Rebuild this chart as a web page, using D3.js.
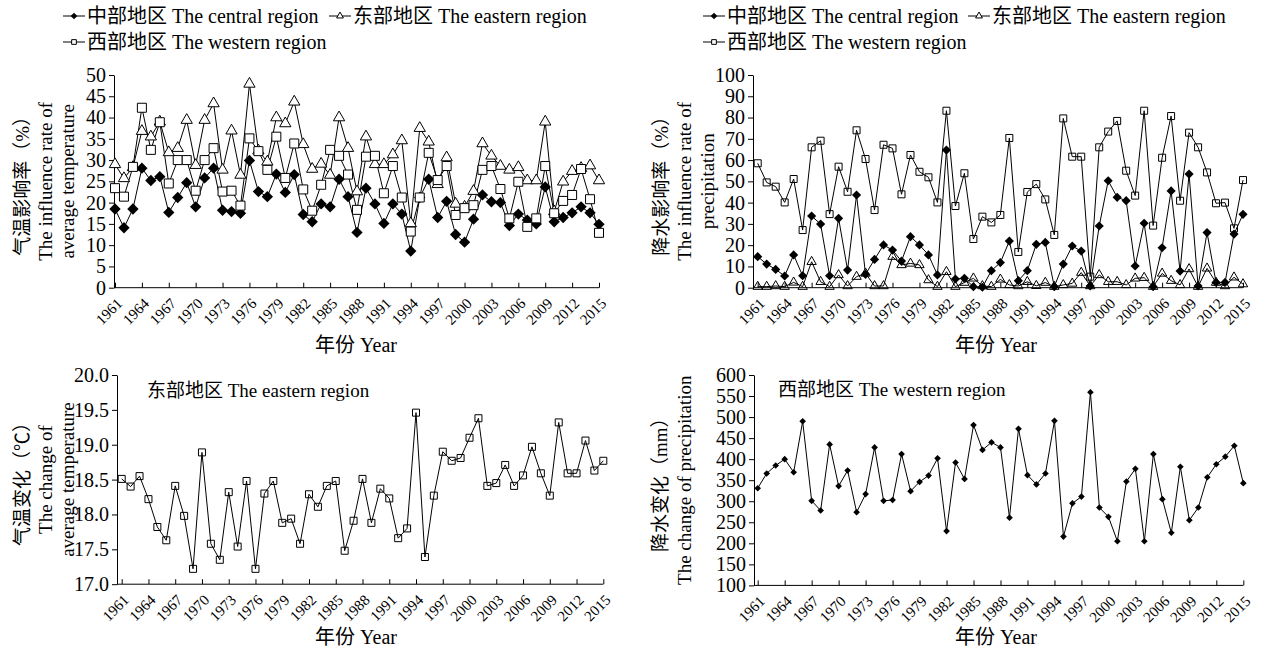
<!DOCTYPE html>
<meta charset="utf-8">
<style>
    body { margin:0; background:#fff; }
    text { font-family:"Liberation Serif","Noto Sans CJK SC",serif; fill:#000; }
    .axis path, .axis line { stroke:#000; stroke-width:1; fill:none; }
</style>
<body>
<script src="https://cdn.jsdelivr.net/npm/d3@7"></script>
<script>
var years = d3.range(1961, 2016);
var yearTicks = d3.range(1961, 2016, 3);
var regionNames = ["中部地区 The central region", "东部地区 The eastern region", "西部地区 The western region"];

// influence rate of average temperature (%)
var tempRateCentral = [18.5,14.1,18.5,28.1,25.2,26.1,17.7,21.2,24.7,19.0, 25.8,28.1,18.2,17.9,17.5,29.9,22.6,21.4,26.7,22.4,
    26.6,17.2,15.5,19.7,19.0,25.5,21.4,13.0,23.4,19.7, 15.1,19.7,17.3,8.6,21.2,25.5,16.5,20.3,12.5,10.7,
    16.1,21.8,20.2,20.0,14.6,17.3,15.9,15.0,23.7,15.5, 16.5,17.6,19.0,17.6,14.9];
var tempRateEastern = [29.0,25.7,28.3,36.8,35.5,39.0,31.8,32.8,39.4,28.8, 39.4,43.3,27.7,36.9,26.5,47.9,32.2,29.6,40.0,38.6,
    43.7,33.7,27.9,29.1,26.5,40.0,32.8,22.6,35.5,29.0, 29.0,31.3,34.6,15.1,37.5,34.3,24.3,30.6,19.7,19.0,
    22.7,33.9,31.0,28.6,27.7,28.3,25.2,25.2,39.0,17.9, 24.9,27.4,28.1,28.7,25.2];
var tempRateWestern = [23.4,21.4,28.4,42.3,32.4,38.9,24.5,30.0,30.0,22.8, 30.0,32.8,22.6,22.8,19.3,35.1,32.1,27.7,35.5,25.8,
    33.9,23.1,18.1,24.2,32.4,31.0,26.6,18.3,30.8,31.0, 22.2,28.6,21.2,13.2,21.2,31.7,25.3,28.6,17.1,18.7,
    19.4,27.7,28.6,23.2,16.3,24.9,14.3,16.3,28.6,17.5, 20.4,21.8,27.9,20.8,12.9];

// influence rate of precipitation (%)
var precRateCentral = [14.6,11.1,8.6,5.5,15.4,5.6,33.7,29.9,5.6,32.6, 8.3,43.6,6.3,13.3,20.1,17.7,12.5,24.0,20.1,15.4,
    6.0,64.7,4.1,4.4,0.5,0.2,8.0,11.8,21.9,3.3, 8.0,20.4,21.3,0.5,11.1,19.6,17.2,0.8,29.0,50.3,
    42.5,40.9,10.2,30.3,0.5,18.8,45.5,7.8,53.4,0.8, 25.9,2.5,2.5,25.2,34.5];
var precRateEastern = [0.5,0.5,0.8,0.5,2.5,0.5,12.2,2.8,0.5,6.0, 0.8,5.2,6.7,0.8,0.8,14.6,10.7,11.4,10.7,3.6,
    0.5,7.5,0.5,2.4,4.4,0.8,0.5,3.9,1.3,0.8, 2.8,0.9,2.4,0.5,1.3,2.0,7.1,0.8,6.0,2.8,
    2.8,1.3,4.4,4.7,0.5,6.7,3.3,1.3,8.8,0.5, 9.1,2.4,0.8,4.9,1.7];
var precRateWestern = [58.5,49.5,47.5,40.1,51.1,27.1,66.0,69.1,34.6,56.9, 45.1,74.0,60.5,36.5,67.2,65.5,43.9,62.4,54.5,51.9,
    40.1,83.2,38.4,53.8,22.9,33.4,30.7,34.2,70.4,16.8, 45.0,48.7,41.5,24.8,79.6,61.6,61.6,5.2,66.0,73.4,
    78.4,55.0,43.3,83.2,29.2,61.1,80.7,40.9,72.9,66.0, 54.2,39.7,40.0,27.9,50.6];

// eastern region average temperature (°C)
var tempEastern = [18.51,18.40,18.55,18.22,17.82,17.63,18.41,17.98,17.22,18.89, 17.58,17.35,18.32,17.54,18.48,17.22,18.30,18.48,17.88,17.94,
    17.58,18.29,18.11,18.41,18.48,17.48,17.91,18.51,17.88,18.37, 18.23,17.66,17.80,19.46,17.39,18.27,18.90,18.77,18.81,19.10,
    19.38,18.41,18.45,18.71,18.41,18.56,18.97,18.59,18.27,19.32, 18.59,18.59,19.06,18.63,18.77];

// western region precipitation (mm)
var precWestern = [331,366,385,400,369,490,301,278,435,336, 373,274,317,428,301,303,412,324,346,361,
    402,229,392,353,481,422,440,428,261,472, 362,340,366,491,216,295,311,559,285,263,
    205,347,377,205,412,305,225,382,255,285, 357,388,406,432,343];

var tempRateTicks = d3.range(0, 51, 5);
var precRateTicks = d3.range(0, 101, 10);
var tempTicks = [17.0,17.5,18.0,18.5,19.0,19.5,20.0];
var precTicks = d3.range(100, 601, 50);

var FONT = '"Liberation Serif","Noto Sans CJK SC",serif';
var width = 1266, height = 652;
var svg = d3.select("body").append("svg")
    .attr("width", width)
    .attr("height", height);

function addMarker(g, kind, size, fill) {
    var m = g.append("path")
        .attr("d", d3.symbol().type(kind == "triangle" ? d3.symbolTriangle : d3.symbolSquare).size(size)());
    if (kind == "diamond") m.attr("transform", "rotate(45)").attr("fill", "#000");
    else m.attr("fill", fill).attr("stroke", "#000").attr("stroke-width", 1);
    return m;
}

function panel(o) {
    var g = svg.append("g");
    var x = d3.scaleLinear().domain([1961, 2015]).range(o.xr);
    var y = d3.scaleLinear().domain(o.yd).range(o.yr);

    g.append("g").attr("class", "axis")
        .attr("transform", "translate(" + o.ax + ",0)")
        .call(d3.axisLeft(y).tickValues(o.yticks).tickSize(5).tickSizeOuter(0).tickPadding(3).tickFormat(o.fmt))
        .attr("font-family", FONT).attr("font-size", 20);

    var xa = g.append("g").attr("class", "axis")
        .attr("transform", "translate(0," + o.yr[0] + ")")
        .call(d3.axisBottom(x).tickValues(yearTicks).tickSizeInner(-5).tickSizeOuter(0).tickFormat(d3.format("d")))
        .attr("font-family", FONT).attr("font-size", 15);
    xa.select(".domain").remove();
    xa.append("line").attr("x1", o.ax).attr("x2", o.xr[1]).attr("stroke", "#000");
    xa.selectAll("text")
        .attr("x", 0).attr("y", 0).attr("dy", "0.35em")
        .attr("transform", "translate(4,13) rotate(-45)")
        .style("text-anchor", "end");

    o.series.forEach(function(s) {
        g.append("path").datum(s.values)
            .attr("fill", "none").attr("stroke", "#000").attr("stroke-width", 1)
            .attr("d", d3.line().x(function(d, i) { return x(years[i]); }).y(function(d) { return y(d); }));
    });
    o.series.forEach(function(s) {
        s.values.forEach(function(d, i) {
            var mg = g.append("g").attr("transform", "translate(" + x(years[i]) + "," + y(d) + ")");
            addMarker(mg, s.kind, s.size, o.fill);
        });
    });

    // axis titles
    var cy = (o.yr[0] + o.yr[1]) / 2;
    o.ytitle.forEach(function(t, i) {
        g.append("text")
            .attr("transform", "translate(" + o.ytx[i] + "," + cy + ") rotate(-90)")
            .attr("text-anchor", "middle").attr("dy", "0.35em")
            .style("font-size", "19px").text(t);
    });
    g.append("text").attr("x", o.xtx).attr("y", o.xty)
        .attr("text-anchor", "middle").attr("dy", "0.35em")
        .style("font-size", "20px").text("年份 Year");

    if (o.note) {
        g.append("text").attr("x", o.note[0]).attr("y", o.note[1]).attr("dy", "0.35em")
            .style("font-size", "19px").text(o.note[2]);
    }
    if (o.legend) {
        var items = [[o.legend[0], 16, "diamond"], [o.legend[1], 16, "triangle"], [o.legend[0], 42, "square"]];
        items.forEach(function(it, i) {
            var lg = g.append("g").attr("transform", "translate(" + it[0] + "," + it[1] + ")");
            lg.append("line").attr("x1", 0).attr("x2", 22).attr("stroke", "#000");
            var mg = lg.append("g").attr("transform", "translate(11,0)");
            addMarker(mg, it[2], it[2] == "triangle" ? 20 : 22, "#fff");
            lg.append("text").attr("x", 24).attr("dy", "0.35em").style("font-size", "20px")
                .text(regionNames[i]);
        });
    }
}

panel({
    xr: [115, 599], ax: 114, yr: [287.7, 75], yd: [0, 50], yticks: tempRateTicks, fmt: d3.format("d"),
    fill: "#fff",
    series: [
        {values: tempRateCentral, kind: "diamond", size: 64},
        {values: tempRateEastern, kind: "triangle", size: 55},
        {values: tempRateWestern, kind: "square", size: 81}
    ],
    ytitle: ["气温影响率（%）", "The influence rate of", "average temperature"], ytx: [22, 45, 67],
    xtx: 356, xty: 345, legend: [63, 329]
});

panel({
    xr: [757.7, 1243], ax: 753, yr: [287.7, 75], yd: [0, 100], yticks: precRateTicks, fmt: d3.format("d"),
    fill: "none",
    series: [
        {values: precRateCentral, kind: "diamond", size: 42},
        {values: precRateEastern, kind: "triangle", size: 38},
        {values: precRateWestern, kind: "square", size: 49}
    ],
    ytitle: ["降水影响率（%）", "The influence rate of", "precipitation"], ytx: [661, 684, 707],
    xtx: 996, xty: 345, legend: [703, 968]
});

panel({
    xr: [121.7, 603.3], ax: 117, yr: [584.2, 375], yd: [17, 20], yticks: tempTicks, fmt: d3.format(".1f"),
    fill: "none",
    series: [{values: tempEastern, kind: "square", size: 49}],
    ytitle: ["气温变化（℃）", "The change of", "average temperature"], ytx: [22, 45, 67],
    xtx: 356, xty: 637, note: [147, 390, "东部地区 The eastern region"]
});

panel({
    xr: [757.7, 1243.3], ax: 754, yr: [585.4, 375], yd: [100, 600], yticks: precTicks, fmt: d3.format("d"),
    fill: "none",
    series: [{values: precWestern, kind: "diamond", size: 22}],
    ytitle: ["降水变化（mm）", "The change of precipitation"], ytx: [660, 684],
    xtx: 996, xty: 637, note: [778, 389, "西部地区 The western region"]
});
</script>
</body>
